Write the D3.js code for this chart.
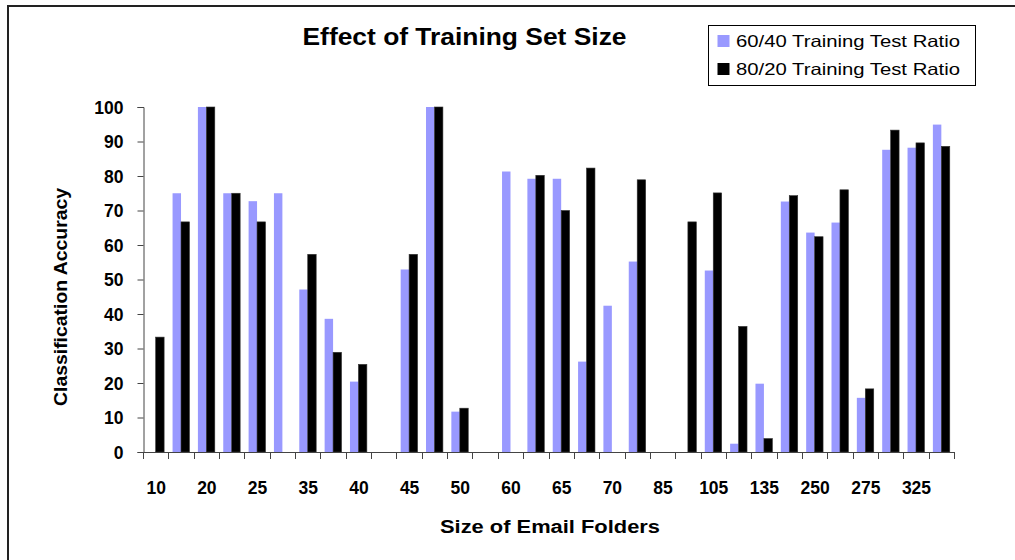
<!DOCTYPE html>
<html>
<head>
<meta charset="utf-8">
<script src="https://cdn.jsdelivr.net/npm/d3@7"></script>
<style>
  html, body { margin: 0; padding: 0; background: #fff; }
  svg { display: block; font-family: "Liberation Sans", Arial, sans-serif; }
</style>
</head>
<body>
<svg id="chart" width="1015" height="560"></svg>
<script>
// ---- data ----
const title = "Effect of Training Set Size";
const xTitle = "Size of Email Folders";
const yTitle = "Classification Accuracy";
const seriesNames = ["60/40 Training Test Ratio", "80/20 Training Test Ratio"];
// visible category labels (every other category is labelled)
const sizeLabels = ["10","20","25","35","40","45","50","60","65","70","85","105","135","250","275","325"];
// 32 categories (folder groups) (null = no bar)
const ratio6040 = [null,75,100,75,72.7,75,47.1,38.6,20.4,null,52.9,100,11.7,null,81.3,79.2,79.2,26.2,42.4,55.2,null,null,52.6,2.4,19.8,72.6,63.6,66.5,15.7,87.6,88.2,94.9];
const ratio8020 = [33.3,66.7,100,75,66.7,null,57.3,28.9,25.4,null,57.3,100,12.7,null,null,80.2,70.0,82.3,null,78.9,null,66.7,75.1,36.4,3.9,74.3,62.4,76.0,18.3,93.3,89.6,88.6];
const yTicks = [0,10,20,30,40,50,60,70,80,90,100];
const colors = ["#9999ff", "#000000"];

// ---- layout ----
const svg = d3.select("#chart");
const plot = { left: 143, right: 954, top: 107, bottom: 452 };
const categories = d3.range(ratio6040.length);

const x = d3.scaleBand().domain(categories).range([plot.left, plot.right]).padding(0);
const w = x.bandwidth();
const xs = d3.scaleBand().domain([0, 1]).range([w / 6, 5 * w / 6]).padding(0);
const y = d3.scaleLinear().domain([0, 100]).range([plot.bottom, plot.top]);

// outer frame (extends beyond picture on right/bottom)
svg.append("rect").attr("x", 8).attr("y", 6).attr("width", 1100).attr("height", 700)
  .attr("fill", "none").attr("stroke", "#222").attr("stroke-width", 2);

// bars
const series = [ratio6040, ratio8020];
series.forEach((vals, si) => {
  svg.append("g").selectAll("rect")
    .data(vals.map((v, i) => ({ i, v })).filter(d => d.v !== null && d.v > 0))
    .join("rect")
    .attr("x", d => x(d.i) + xs(si))
    .attr("width", xs.bandwidth())
    .attr("y", d => y(d.v))
    .attr("height", d => y(0) - y(d.v))
    .attr("fill", colors[si])
    .attr("stroke", si === 1 ? "#333" : "none")
    .attr("stroke-width", si === 1 ? 0.6 : 0);
});

// y axis
const yAxis = d3.axisLeft(y).tickValues(yTicks).tickSize(6).tickPadding(14).tickFormat(d3.format("d"));
const gy = svg.append("g").attr("transform", `translate(${plot.left + 0.5},0)`).call(yAxis);
gy.select(".domain").attr("stroke", "#444");
gy.selectAll(".tick line").attr("stroke", "#444");
gy.selectAll(".tick text").attr("font-size", "17.5px").attr("font-weight", "bold")
  .attr("fill", "#000").attr("font-family", "Liberation Sans, Arial, sans-serif").attr("dy", "0.36em");

// x axis: ticks at category boundaries
const xAxisG = svg.append("g");
xAxisG.append("line").attr("x1", plot.left).attr("x2", plot.right)
  .attr("y1", plot.bottom + 0.5).attr("y2", plot.bottom + 0.5).attr("stroke", "#444");
const boundaries = categories.map(c => x(c)).concat([plot.right]);
xAxisG.selectAll("line.tk").data(boundaries).join("line").attr("class", "tk")
  .attr("x1", d => Math.round(d) + 0.5).attr("x2", d => Math.round(d) + 0.5)
  .attr("y1", plot.bottom).attr("y2", plot.bottom + 7).attr("stroke", "#444");
xAxisG.selectAll("text").data(sizeLabels).join("text")
  .attr("x", (d, k) => x(k * 2) + w / 2 + 0.5)
  .attr("y", 494)
  .attr("text-anchor", "middle")
  .attr("font-size", "17.5px").attr("font-weight", "bold")
  .text(d => d);

// titles
svg.append("text").attr("x", 464.5).attr("y", 45).attr("text-anchor", "middle")
  .attr("font-size", "23px").attr("font-weight", "bold")
  .attr("textLength", 324).attr("lengthAdjust", "spacingAndGlyphs").text(title);
svg.append("text").attr("x", 550).attr("y", 533).attr("text-anchor", "middle")
  .attr("font-size", "18px").attr("font-weight", "bold")
  .attr("textLength", 220).attr("lengthAdjust", "spacingAndGlyphs").text(xTitle);
svg.append("text").attr("transform", "translate(67,297) rotate(-90)").attr("text-anchor", "middle")
  .attr("font-size", "18px").attr("font-weight", "bold")
  .attr("textLength", 218).attr("lengthAdjust", "spacingAndGlyphs").text(yTitle);

// legend
const lg = svg.append("g");
lg.append("rect").attr("x", 708.5).attr("y", 25.5).attr("width", 267).attr("height", 60)
  .attr("fill", "#fff").attr("stroke", "#000").attr("stroke-width", 1);
const legendRows = [{ y: 47 }, { y: 75 }];
lg.selectAll("g.item").data(seriesNames).join("g").attr("class", "item")
  .each(function (name, i) {
    const g = d3.select(this);
    g.append("rect").attr("x", 717.5).attr("y", legendRows[i].y - 12).attr("width", 12).attr("height", 12)
      .attr("fill", colors[i]);
    g.append("text").attr("x", 736).attr("y", legendRows[i].y)
      .attr("font-size", "16.5px").attr("textLength", 224).attr("lengthAdjust", "spacingAndGlyphs")
      .text(name);
  });
</script>
</body>
</html>
